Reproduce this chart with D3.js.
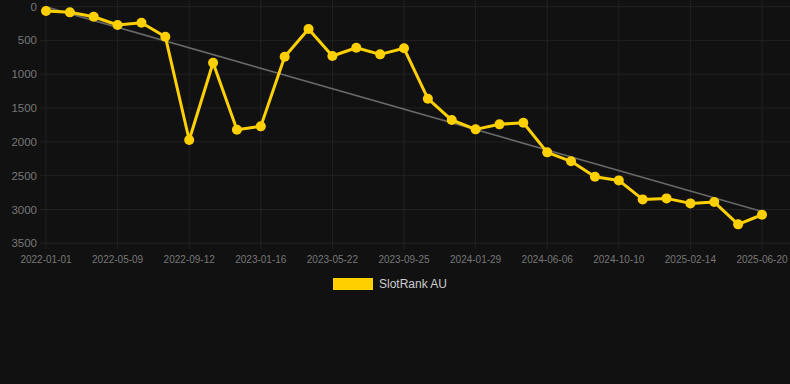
<!DOCTYPE html>
<html>
<head>
<meta charset="utf-8">
<script src="https://cdn.jsdelivr.net/npm/d3@7"></script>
<style>
  body { margin: 0; background: #111111; }
  svg { display: block; font-family: Arial, "Liberation Sans", sans-serif; }
</style>
</head>
<body>
<svg id="chart" width="790" height="384"></svg>
<script>
// categories (one point every ~6 weeks)
const dates = [
  '2022-01-01', '2022-02-14', '2022-03-28', '2022-05-09', '2022-06-20', '2022-08-01',
  '2022-09-12', '2022-10-24', '2022-12-05', '2023-01-16', '2023-02-27', '2023-04-10',
  '2023-05-22', '2023-07-03', '2023-08-14', '2023-09-25', '2023-11-06', '2023-12-18',
  '2024-01-29', '2024-03-11', '2024-04-25', '2024-06-06', '2024-07-18', '2024-08-29',
  '2024-10-10', '2024-11-21', '2025-01-03', '2025-02-14', '2025-03-28', '2025-05-09',
  '2025-06-20'
];
const ranks = [
  65, 85, 150, 272, 238, 445,
  1973, 830, 1820, 1771, 741, 331,
  731, 608, 706, 617, 1362, 1677,
  1815, 1741, 1717, 2155, 2288, 2516,
  2570, 2851, 2836, 2910, 2890, 3220,
  3078
];
const yTicks = [0, 500, 1000, 1500, 2000, 2500, 3000, 3500];
const seriesName = 'SlotRank AU';

const svg = d3.select('#chart');
const plotLeft = 46, plotRight = 762, plotTop = 6.6, plotBottom = 243.3;

const x = d3.scalePoint().domain(dates).range([plotLeft, plotRight]);
const y = d3.scaleLinear().domain([0, 3500]).range([plotTop, plotBottom]);

// grid
svg.append('g').selectAll('line').data(yTicks).enter().append('line')
  .attr('x1', 40).attr('x2', 790)
  .attr('y1', d => y(d)).attr('y2', d => y(d))
  .attr('stroke', '#222').attr('stroke-width', 1);

const labeled = dates.filter((d, i) => i % 3 === 0);
svg.append('g').selectAll('line').data(labeled).enter().append('line')
  .attr('x1', d => x(d)).attr('x2', d => x(d))
  .attr('y1', 0).attr('y2', plotBottom + 6)
  .attr('stroke', '#222').attr('stroke-width', 1);

// y labels
svg.append('g').selectAll('text').data(yTicks).enter().append('text')
  .attr('x', 37).attr('y', d => y(d))
  .attr('dy', '0.35em')
  .attr('text-anchor', 'end')
  .attr('fill', '#777').attr('font-size', 11.5)
  .text(d => d);

// x labels
svg.append('g').selectAll('text').data(labeled).enter().append('text')
  .attr('x', d => x(d)).attr('y', 259)
  .attr('dy', '0.35em')
  .attr('text-anchor', 'middle')
  .attr('fill', '#777').attr('font-size', 10)
  .text(d => d);

// trend line (least squares over index)
const n = ranks.length;
const idx = d3.range(n);
const mx = d3.mean(idx), my = d3.mean(ranks);
const slope = d3.sum(idx, i => (i - mx) * (ranks[i] - my)) / d3.sum(idx, i => (i - mx) * (i - mx));
const icpt = my - slope * mx;
svg.append('line')
  .attr('x1', x(dates[0])).attr('y1', y(icpt))
  .attr('x2', x(dates[n - 1])).attr('y2', y(icpt + slope * (n - 1)))
  .attr('stroke', '#666').attr('stroke-width', 1.6);

// series line
const line = d3.line().x((d, i) => x(dates[i])).y(d => y(d));
svg.append('path').datum(ranks)
  .attr('d', line)
  .attr('fill', 'none')
  .attr('stroke', '#FFD000')
  .attr('stroke-width', 3)
  .attr('stroke-linejoin', 'round');

svg.append('g').selectAll('circle').data(ranks).enter().append('circle')
  .attr('cx', (d, i) => x(dates[i])).attr('cy', d => y(d))
  .attr('r', 5)
  .attr('fill', '#FFD000');

// legend
svg.append('rect').attr('x', 333).attr('y', 278).attr('width', 40).attr('height', 12)
  .attr('fill', '#FFD000');
svg.append('text').attr('x', 379).attr('y', 284).attr('dy', '0.35em')
  .attr('fill', '#ccc').attr('font-size', 12)
  .text(seriesName);
</script>
</body>
</html>
